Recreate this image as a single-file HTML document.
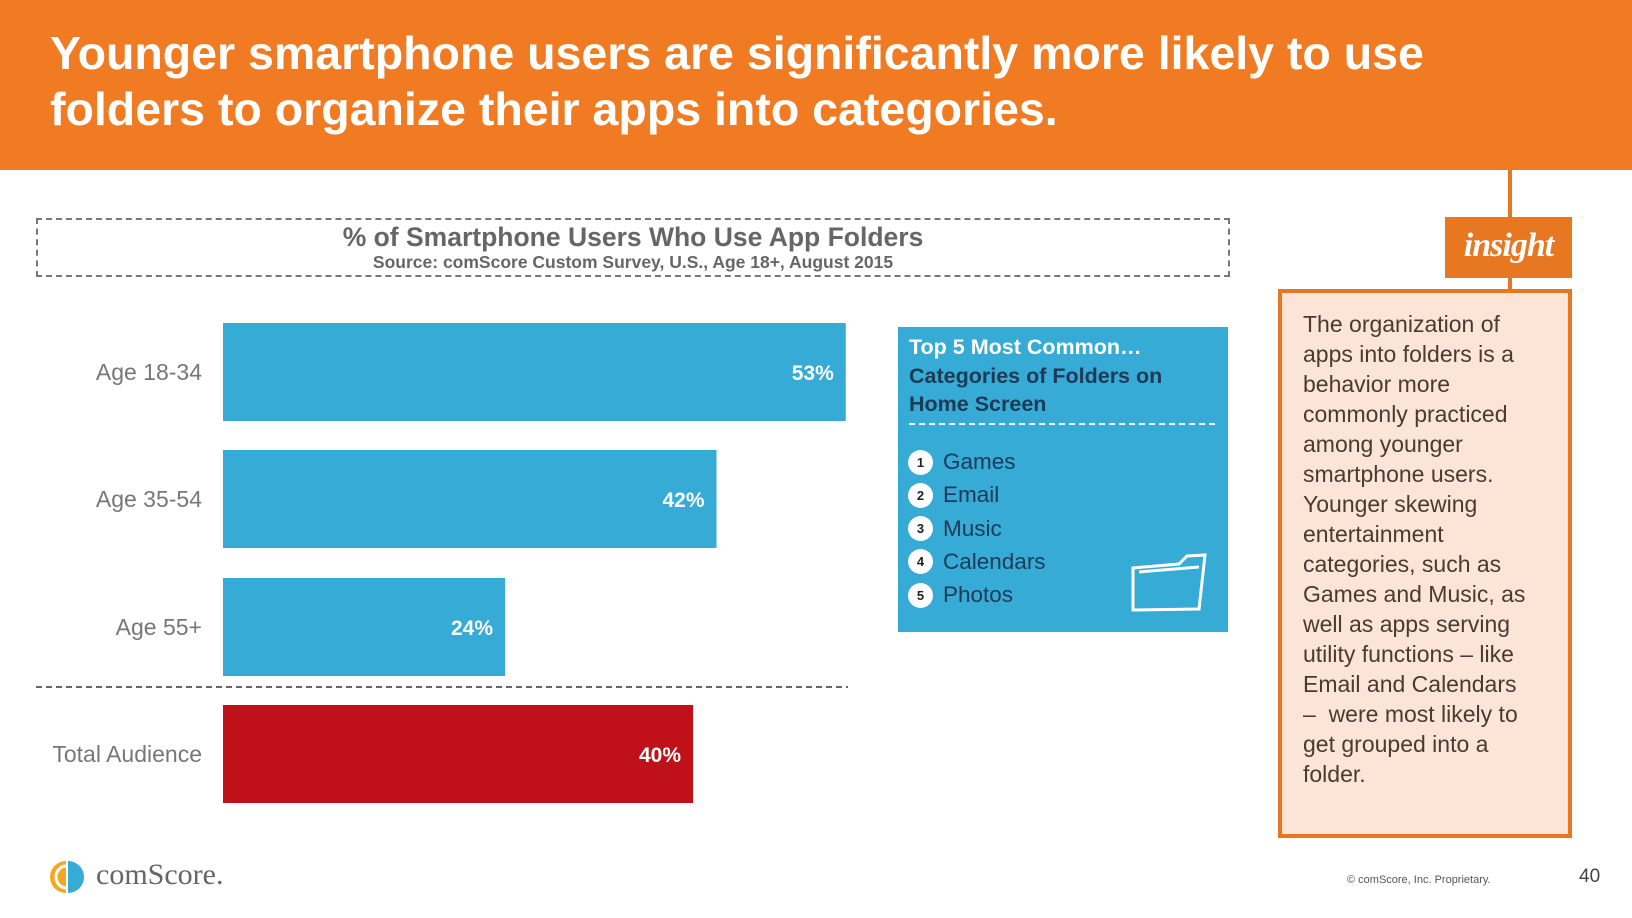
<!DOCTYPE html>
<html><head><meta charset="utf-8">
<style>
body{margin:0;width:1632px;height:918px;overflow:hidden;background:#fff;font-family:"Liberation Sans",Arial,sans-serif;position:relative}
.abs{position:absolute}
</style></head>
<body>
<div class="abs" style="left:0;top:0;width:1632px;height:170px;background:#F07B22"></div>
<div class="abs" style="left:50px;top:25px;color:#fff;font-weight:bold;font-size:46.5px;line-height:56px;">Younger smartphone users are significantly more likely to use<br>folders to organize their apps into categories.</div>

<div class="abs" style="left:36px;top:218px;width:1190px;height:55px;border:2px dashed #777;text-align:center;color:#666;font-weight:bold">
  <div style="font-size:26.5px;margin-top:3px;line-height:29px">% of Smartphone Users Who Use App Folders</div>
  <div style="font-size:17.5px;line-height:21px">Source: comScore Custom Survey, U.S., Age 18+, August 2015</div>
</div>

<svg class="abs" style="left:0;top:0" width="1632" height="918">
<g id="bars"></g>
<line x1="36" y1="687" x2="848" y2="687" stroke="#666" stroke-width="2" stroke-dasharray="6,4"/>
</svg>

<div class="abs" style="left:898px;top:327px;width:330px;height:305px;background:#35ABD6">
  <div style="position:absolute;left:11px;top:6px;font-weight:bold;font-size:21.5px;line-height:28.5px;color:#1E3A56"><span style="color:#fff">Top 5 Most Common…</span><br>Categories of Folders on<br>Home Screen</div>
  <div style="position:absolute;left:11px;top:96px;width:306px;border-top:2px dashed #fff"></div>
  <div id="list"></div>
  <svg style="position:absolute;left:231px;top:225px" width="80" height="62"><path d="M4 16 L50 12 L58 4 L76 3 L70 57 L4 58 Z M10 20 L70 15" fill="none" stroke="#fff" stroke-width="3"/></svg>
</div>

<div class="abs" style="left:1508px;top:170px;width:4px;height:120px;background:#E87722"></div>
<div class="abs" style="left:1445px;top:217px;width:127px;height:61px;background:#E87722;color:#fff;font:italic bold 34px 'Liberation Serif',serif;text-align:center;line-height:58px;letter-spacing:-1px">insight</div>
<div class="abs" style="left:1278px;top:289px;width:286px;height:541px;background:#FCE4D6;border:4px solid #E87722;"></div>
<div class="abs" style="left:1303px;top:309px;width:270px;font-size:23px;line-height:30px;color:#4A3A33;white-space:nowrap">The organization of<br>apps into folders is a<br>behavior more<br>commonly practiced<br>among younger<br>smartphone users.<br>Younger skewing<br>entertainment<br>categories, such as<br>Games and Music, as<br>well as apps serving<br>utility functions – like<br>Email and Calendars<br>–&nbsp; were most likely to<br>get grouped into a<br>folder.</div>

<svg class="abs" style="left:48px;top:858px" width="40" height="40"><path d="M18 3 A16 16 0 0 0 18 35 Z" fill="#F5A623"/><path d="M20 3 A16 16 0 0 1 20 35 Z" fill="#35ABD6"/><path d="M18 8 A10 11 0 0 0 18 30" fill="none" stroke="#fff" stroke-width="3"/></svg>
<div class="abs" style="left:96px;top:858px;font:30px 'Liberation Serif',serif;color:#666">comScore.</div>
<div class="abs" style="left:1347px;top:874px;font-size:11px;color:#555">© comScore, Inc. Proprietary.</div>
<div class="abs" style="left:1579px;top:866px;font-size:19px;color:#444">40</div>

<script>
const categories=["Age 18-34","Age 35-54","Age 55+","Total Audience"];
const values=[53,42,24,40];
const valueLabels=["53%","42%","24%","40%"];
const x0=223, pxPer=11.75;
const rowTop=[323,450,578,705], barH=98;
function xs(v){return v*pxPer;}
const g=document.getElementById('bars');
const NS="http://www.w3.org/2000/svg";
categories.forEach((c,i)=>{
  const r=document.createElementNS(NS,'rect');
  r.setAttribute('x',x0);r.setAttribute('y',rowTop[i]);r.setAttribute('width',xs(values[i]));r.setAttribute('height',barH);
  r.setAttribute('fill',i===3?'#C0111B':'#35ABD6');
  
  
  g.appendChild(r);
  const t=document.createElementNS(NS,'text');
  t.setAttribute('x',x0+xs(values[i])-12);t.setAttribute('y',rowTop[i]+barH/2+8);
  t.setAttribute('text-anchor','end');t.setAttribute('fill','#fff');t.setAttribute('font-weight','bold');t.setAttribute('font-size','21');
  t.setAttribute('font-family','Liberation Sans, sans-serif');
  t.textContent=valueLabels[i];
  
  
  g.appendChild(t);
  const l=document.createElementNS(NS,'text');
  l.setAttribute('x',202);l.setAttribute('y',rowTop[i]+barH/2+8);
  l.setAttribute('text-anchor','end');l.setAttribute('fill','#777');l.setAttribute('font-size','23');
  l.setAttribute('font-family','Liberation Sans, sans-serif');
  l.textContent=c;
  
  
  g.appendChild(l);
});
const items=["Games","Email","Music","Calendars","Photos"];
const list=document.getElementById('list');
items.forEach((it,i)=>{
  const d=document.createElement('div');
  d.style.cssText='position:absolute;left:10px;top:'+(121+i*33.3)+'px;height:28px;display:flex;align-items:center;';
  d.innerHTML='<span style="display:inline-block;width:25px;height:25px;border-radius:50%;background:#fff;color:#222;font-size:13px;font-weight:bold;text-align:center;line-height:25px">'+(i+1)+'</span><span style="margin-left:10px;font-size:22.5px;color:#1E3A56">'+it+'</span>';
  
  
  list.appendChild(d);
});
</script>
</body></html>
